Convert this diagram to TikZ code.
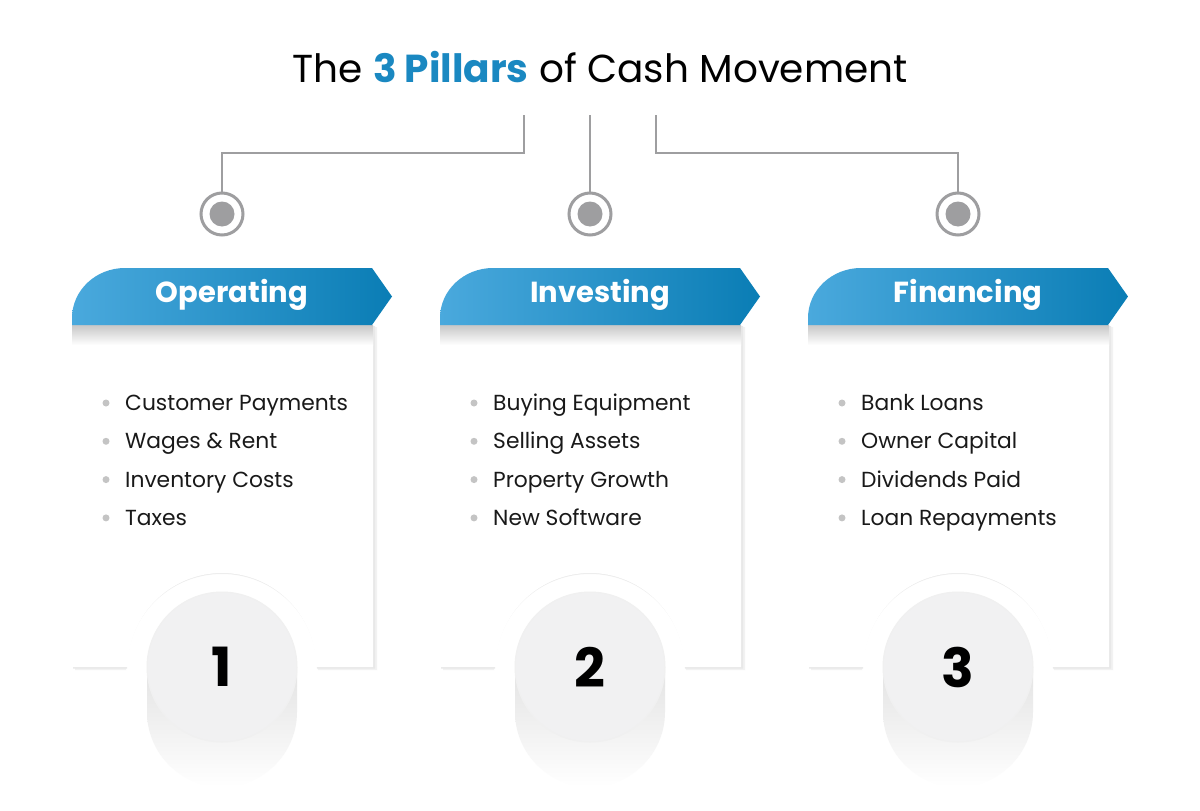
\documentclass[tikz,border=0pt]{standalone}
\usepackage{fontspec}
\setmainfont{Poppins}
\usetikzlibrary{calc}
\definecolor{blueL}{HTML}{4AA9DD}
\definecolor{blueD}{HTML}{0A7DB5}
\definecolor{titleblue}{HTML}{1A88C1}
\definecolor{linegray}{HTML}{9E9EA0}
\definecolor{dotgray}{HTML}{C4C4C4}
\definecolor{numfill}{HTML}{F1F1F2}
\tikzset{
  conn/.style={draw=linegray, line width=2.5pt},
  ring/.style={circle, draw=linegray, line width=3pt, minimum size=42pt, inner sep=0pt},
  headtxt/.style={text=white, font=\bfseries\fontsize{29}{29}\selectfont},
  itemtxt/.style={anchor=base west, text=black!90, inner sep=0pt, font=\fontsize{21.8}{21.8}\selectfont},
  numcirc/.style={circle, fill=numfill, draw=black!6, line width=1pt, minimum size=150pt, inner sep=0pt, font=\bfseries\fontsize{54}{54}\selectfont},
}
\begin{document}
\begin{tikzpicture}[x=1pt,y=1pt]
\fill[white] (0,0) rectangle (1200,-811);
\useasboundingbox (0,0) rectangle (1200,-811);

% title
\node (title) at (600,-67) {\fontsize{39}{39}\selectfont The \textcolor{titleblue}{\bfseries 3 Pillars} of Cash Movement};

% connector ends
\coordinate (t1) at (524,-115);
\coordinate (k1) at (524,-153);
\coordinate (t2) at (590,-115);
\coordinate (t3) at (656,-115);
\coordinate (k3) at (656,-153);

\foreach \i/\o/\head/\lst in {
  1/0/Operating/{Customer Payments,Wages \& Rent,Inventory Costs,Taxes},
  2/368/Investing/{Buying Equipment,Selling Assets,Property Growth,New Software},
  3/736/Financing/{Bank Loans,Owner Capital,Dividends Paid,Loan Repayments}} {
\begin{scope}[xshift=\o]
  % card shadow
  \fill[black!5] (75,-327) -- (377,-327) -- (377,-670) -- (318,-670) arc[start angle=0,end angle=180,radius=96] -- (75,-670) -- cycle;
  \fill[black!9] (73,-326) -- (375,-326) -- (375,-668.5) -- (317,-668.5) arc[start angle=0,end angle=180,radius=95] -- (73,-668.5) -- cycle;
  % card body
  \fill[white] (72,-325) -- (373,-325) -- (373,-667) -- (316,-667) arc[start angle=0,end angle=180,radius=94] -- (72,-667) -- cycle;
  % shadow under header
  \shade[top color=black!22, bottom color=white] (72,-325) rectangle (373,-345);
  % header
  \shade[left color=blueL, right color=blueD] (72,-325) -- (72,-318) arc[start angle=180,end angle=90,x radius=53,y radius=50] -- (372,-268) -- (392,-296.5) -- (372,-325) -- cycle;
  \node[headtxt] (h\i) at (232,-295) {\head};
  % items
  \foreach \t [count=\k] in \lst {
    \fill[dotgray] (106,{-403-38.3*(\k-1)}) circle (3.5);
    \node[itemtxt] (it\i\k) at (125,{-410.5-38.3*(\k-1)}) {\t};
  }
  % number shadow and circle
  \shade[top color=black!11, bottom color=white] (147,-667) -- (147,-712) arc[start angle=180,end angle=360,radius=75] -- (297,-667) -- cycle;
  \node[numcirc] (n\i) at (222,-667) {\i};
  % ring
  \node[ring] (r\i) at (222,-214) {};
  \fill[linegray] (r\i.center) circle (12.5);
\end{scope}
}

\draw[conn] (t1) -- (k1) -| (r1.north);
\draw[conn] (t2) -- (r2.north);
\draw[conn] (t3) -- (k3) -| (r3.north);
\end{tikzpicture}
\end{document}
